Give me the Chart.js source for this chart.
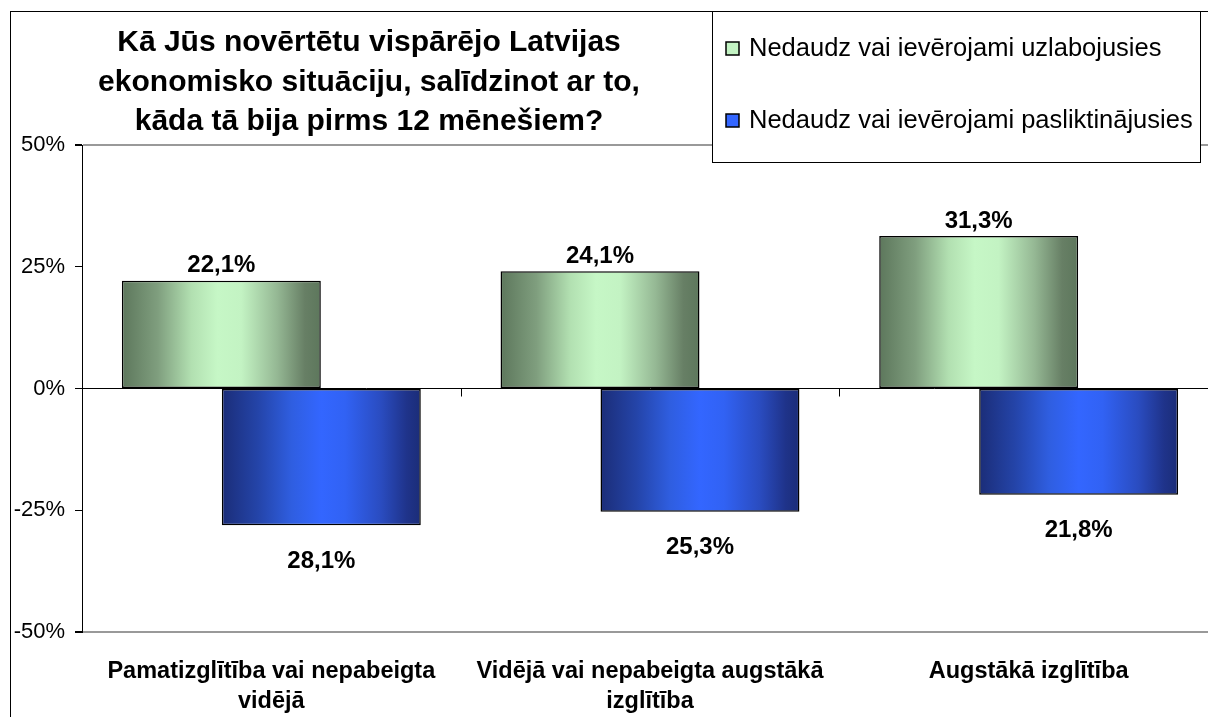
<!DOCTYPE html>
<html>
<head>
<meta charset="utf-8">
<script src="https://cdn.jsdelivr.net/npm/chart.js@4"></script>
<style>
  html, body { margin: 0; padding: 0; background: #fff; overflow: hidden; }
  #wrap { width: 1218px; height: 717px; }
</style>
</head>
<body>
<div id="wrap"><canvas id="chart" width="1218" height="717"></canvas></div>
<script>
const categories = [
    ['Pamatizglītība vai nepabeigta', 'vidējā'],
    ['Vidējā vai nepabeigta augstākā', 'izglītība'],
    ['Augstākā izglītība']
];
const improved = [22.1, 24.1, 31.3];
const worsened = [-28.1, -25.3, -21.8];
const seriesNames = ['Nedaudz vai ievērojami uzlabojusies', 'Nedaudz vai ievērojami pasliktinājusies'];
const yTicks = [-50, -25, 0, 25, 50];
const titleLines = [
    'Kā Jūs novērtētu vispārējo Latvijas',
    'ekonomisko situāciju, salīdzinot ar to,',
    'kāda tā bija pirms 12 mēnešiem?'
];

const FONT = '"Liberation Sans", Arial, sans-serif';
const CAT_PCT = 0.528;
const BAR_PCT = 1.99;

// colour stops for the cylinder-like shading
const greenStops = [[0, '#5d775c'], [0.18, '#7f9e7e'], [0.35, '#b2e0b1'], [0.48, '#c6f7c6'], [0.6, '#c3f3c3'], [0.78, '#95b894'], [0.92, '#677f65'], [1, '#5d775c']];
const blueStops = [[0, '#1b2d78'], [0.18, '#2444a8'], [0.35, '#2f5ee0'], [0.5, '#3366ff'], [0.62, '#3162f4'], [0.8, '#2a4cc0'], [0.93, '#1f338a'], [1, '#1b2d78']];

function barGradient(ctx, stops) {
    const chart = ctx.chart;
    const xScale = chart.scales.x;
    if (!xScale || !chart.chartArea) return stops[3][1];
    const catW = xScale.width / categories.length;
    const chunk = catW * CAT_PCT / 2;
    const center = xScale.getPixelForValue(ctx.dataIndex) + (ctx.datasetIndex - 0.5) * chunk;
    const half = chunk * BAR_PCT / 2;
    const g = chart.ctx.createLinearGradient(center - half, 0, center + half, 0);
    stops.forEach(s => g.addColorStop(s[0], s[1]));
    return g;
}

function fmt(v) {
    return Math.abs(v).toFixed(1).replace('.', ',') + '%';
}

const decorPlugin = {
    id: 'decor',
    beforeDraw(chart) {
        const c = chart.ctx;
        c.save();
        c.fillStyle = '#fff';
        c.fillRect(0, 0, chart.width, chart.height);
        c.restore();
    },
    afterDatasetsDraw(chart) {
        const c = chart.ctx;
        const xScale = chart.scales.x;
        const yScale = chart.scales.y;
        const zeroY = yScale.getPixelForValue(0);
        c.save();
        // category separators on the zero line
        c.strokeStyle = '#000';
        c.lineWidth = 1;
        for (let i = 1; i < categories.length; i++) {
            const x = Math.round((xScale.getPixelForValue(i - 1) + xScale.getPixelForValue(i)) / 2) + 0.5;
            c.beginPath();
            c.moveTo(x, zeroY);
            c.lineTo(x, zeroY + 8);
            c.stroke();
        }
        // value labels
        c.font = 'bold 24px ' + FONT;
        c.fillStyle = '#000';
        c.textAlign = 'center';
        c.textBaseline = 'middle';
        chart.data.datasets.forEach((ds, di) => {
            const meta = chart.getDatasetMeta(di);
            meta.data.forEach((bar, i) => {
                const v = ds.data[i];
                const y = v >= 0 ? bar.y - 15 : bar.y + 36;
                c.fillText(fmt(v), bar.x, y);
            });
        });
        c.restore();
    },
    afterDraw(chart) {
        const c = chart.ctx;
        c.save();
        // outer frame
        c.strokeStyle = '#000';
        c.lineWidth = 1;
        c.strokeRect(10.5, 11.5, chart.width + 20, chart.height + 20);
        // title
        c.font = 'bold 30px ' + FONT;
        c.fillStyle = '#000';
        c.textAlign = 'center';
        c.textBaseline = 'middle';
        titleLines.forEach((t, i) => c.fillText(t, 369, 43 + i * 39.5));
        // legend box
        c.fillStyle = '#fff';
        c.fillRect(712.5, 11.5, 488, 151);
        c.strokeRect(712.5, 11.5, 488, 151);
        c.font = '25.5px ' + FONT;
        c.textAlign = 'left';
        const fills = [greenStops[4][1], blueStops[3][1]];
        seriesNames.forEach((name, i) => {
            const y = 48 + i * 72;
            c.fillStyle = fills[i];
            c.fillRect(726, y - 6, 13, 13);
            c.strokeStyle = '#000';
            c.lineWidth = 1.5;
            c.strokeRect(726, y - 6, 13, 13);
            c.fillStyle = '#000';
            c.fillText(name, 749, y + 1);
        });
        c.restore();
    }
};

new Chart(document.getElementById('chart'), {
    type: 'bar',
    data: {
        labels: categories,
        datasets: [
            {
                label: seriesNames[0],
                data: improved,
                backgroundColor: ctx => barGradient(ctx, greenStops),
                borderColor: '#000',
                borderWidth: 1.5,
                borderSkipped: false
            },
            {
                label: seriesNames[1],
                data: worsened,
                backgroundColor: ctx => barGradient(ctx, blueStops),
                borderColor: '#000',
                borderWidth: 1.5,
                borderSkipped: false
            }
        ]
    },
    options: {
        responsive: false,
        animation: false,
        categoryPercentage: CAT_PCT,
        barPercentage: BAR_PCT,
        layout: { padding: { top: 145, right: 0, bottom: 0, left: 0 } },
        plugins: {
            legend: { display: false },
            title: { display: false },
            tooltip: { enabled: false }
        },
        scales: {
            x: {
                afterFit(scale) { scale.height = 85; },
                grid: { display: false, drawTicks: false },
                border: { display: false },
                ticks: {
                    color: '#000',
                    padding: 24,
                    maxRotation: 0,
                    autoSkip: false,
                    font: { family: FONT, size: 23.5, weight: 'bold', lineHeight: 1.3 }
                }
            },
            y: {
                min: -50,
                max: 50,
                afterFit(scale) { scale.width = 82; },
                afterBuildTicks(scale) { scale.ticks = yTicks.map(v => ({ value: v })); },
                border: { display: true, color: '#000', width: 1 },
                grid: {
                    drawTicks: true,
                    tickLength: 7,
                    tickColor: '#000',
                    color: ctx => ctx.tick && ctx.tick.value === 0 ? '#000' : (ctx.tick && Math.abs(ctx.tick.value) === 50 ? '#999' : 'rgba(0,0,0,0)'),
                    lineWidth: ctx => ctx.tick && Math.abs(ctx.tick.value) === 50 ? 2 : 1
                },
                ticks: {
                    color: '#000',
                    padding: 10,
                    font: { family: FONT, size: 22 },
                    callback: v => v + '%'
                }
            }
        }
    },
    plugins: [decorPlugin]
});
</script>
</body>
</html>
